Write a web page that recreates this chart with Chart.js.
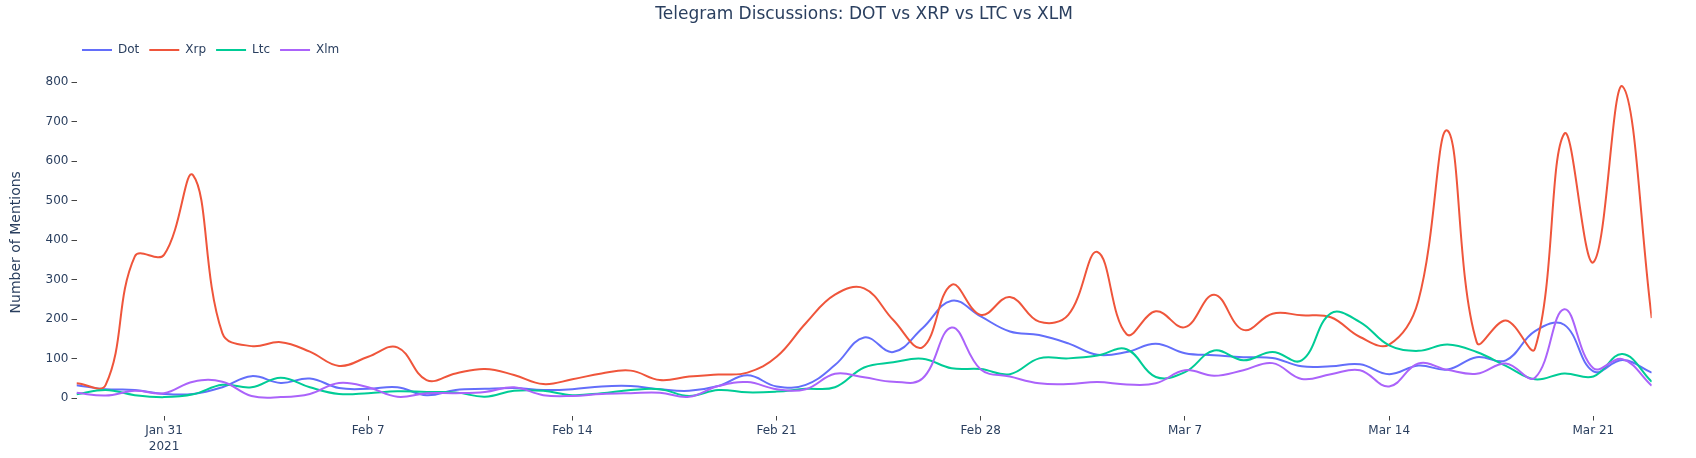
<!DOCTYPE html>
<html>
<head>
<meta charset="utf-8">
<title>Telegram Discussions: DOT vs XRP vs LTC vs XLM</title>
<script src="https://cdn.jsdelivr.net/npm/chart.js@4.4.1/dist/chart.umd.min.js"></script>
<style>
  html, body { margin: 0; padding: 0; background: #fff; }
  #chart { display: block; }
</style>
</head>
<body>
<canvas id="chart" width="1696" height="458"></canvas>
<script>
/* ── Data: daily mentions, Jan 28 – Mar 23 2021 ─────────── */
const days = [
  'Jan 28', 'Jan 29', 'Jan 30', 'Jan 31',
  'Feb 1', 'Feb 2', 'Feb 3', 'Feb 4', 'Feb 5', 'Feb 6', 'Feb 7',
  'Feb 8', 'Feb 9', 'Feb 10', 'Feb 11', 'Feb 12', 'Feb 13', 'Feb 14',
  'Feb 15', 'Feb 16', 'Feb 17', 'Feb 18', 'Feb 19', 'Feb 20', 'Feb 21',
  'Feb 22', 'Feb 23', 'Feb 24', 'Feb 25', 'Feb 26', 'Feb 27', 'Feb 28',
  'Mar 1', 'Mar 2', 'Mar 3', 'Mar 4', 'Mar 5', 'Mar 6', 'Mar 7',
  'Mar 8', 'Mar 9', 'Mar 10', 'Mar 11', 'Mar 12', 'Mar 13', 'Mar 14',
  'Mar 15', 'Mar 16', 'Mar 17', 'Mar 18', 'Mar 19', 'Mar 20', 'Mar 21',
  'Mar 22', 'Mar 23'
];

const dot = [33, 23, 21, 11, 11, 28, 56, 39, 50, 26, 24, 28, 8, 21, 24, 26, 21, 23, 30, 31,
             23, 19, 31, 58, 30, 34, 84, 154, 117, 177, 247, 207, 169, 160, 139, 110, 117, 138, 114, 109,
             104, 102, 81, 81, 86, 61, 83, 73, 104, 96, 170, 186, 68, 97, 65];
const xrp = [38, 34, 359, 363, 564, 165, 132, 142, 118, 82, 105, 129, 46, 63, 74, 59, 36, 48, 63, 70,
             46, 55, 60, 65, 105, 190, 262, 278, 198, 129, 287, 211, 256, 194, 211, 370, 162, 220, 180, 262,
             173, 214, 210, 205, 155, 136, 247, 677, 142, 197, 126, 669, 344, 789, 203];
const ltc = [10, 21, 8, 3, 10, 34, 28, 52, 28, 11, 13, 18, 16, 15, 4, 19, 19, 8, 13, 21,
             23, 6, 21, 15, 17, 24, 28, 78, 91, 100, 76, 74, 61, 101, 101, 108, 124, 54, 66, 121,
             96, 117, 96, 215, 193, 134, 120, 136, 117, 82, 48, 63, 55, 112, 42];
const xlm = [14, 7, 19, 13, 42, 42, 6, 3, 11, 39, 28, 4, 13, 13, 16, 28, 8, 6, 11, 13,
             14, 4, 31, 41, 23, 23, 62, 53, 42, 50, 179, 73, 55, 38, 36, 41, 35, 38, 71, 57,
             71, 89, 49, 61, 71, 30, 88, 72, 62, 88, 52, 225, 76, 99, 32];

const seriesNames = ['Dot', 'Xrp', 'Ltc', 'Xlm'];

/* ── Axis ticks ─────────────────────────────────────────── */
const tickDays   = ['Jan 31', 'Feb 7', 'Feb 14', 'Feb 21', 'Feb 28', 'Mar 7', 'Mar 14', 'Mar 21'];
const tickLabels = [['Jan 31', '2021'], 'Feb 7', 'Feb 14', 'Feb 21', 'Feb 28', 'Mar 7', 'Mar 14', 'Mar 21'];
const yTicks     = [0, 100, 200, 300, 400, 500, 600, 700, 800];

/* ── Style tokens ───────────────────────────────────────── */
const FONT   = '"DejaVu Sans", Verdana, sans-serif';
const INK    = '#2a3f5f';
const TICK   = '#444';
const COLORS = ['#636efa', '#EF553B', '#00cc96', '#ab63fa'];

Chart.defaults.font.family = FONT;
Chart.defaults.color = INK;

// turn a series into {x: day index, y: value}
const toPoints = arr => arr.map((v, i) => ({ x: i, y: v }));

// title sits over the plot area, legend starts at the left like plotly's
const placeBlocks = {
  id: 'placeBlocks',
  afterLayout(chart) {
    const area = chart.chartArea;
    if (chart.titleBlock) {
      chart.titleBlock.left  = area.left;
      chart.titleBlock.right = area.right;
    }
    if (chart.legend) {
      chart.legend.left = 72;
      chart.legend.top  = 34;
    }
  },
};

const allSeries = [dot, xrp, ltc, xlm];

new Chart(document.getElementById('chart'), {
  type: 'line',
  data: {
    datasets: allSeries.map((s, i) => ({
      label:           seriesNames[i],
      data:            toPoints(s),
      borderColor:     COLORS[i],
      backgroundColor: COLORS[i],
      borderWidth:     2,
      pointRadius:     0,
      tension:         0.4,
      fill:            false,
      order:           allSeries.length - i,   // later traces on top
    })),
  },
  options: {
    responsive: false,
    animation:  false,
    layout: { padding: { top: 2.3, right: 44.3, bottom: 0, left: 0 } },
    plugins: {
      title: {
        display: true,
        text:    'Telegram Discussions: DOT vs XRP vs LTC vs XLM',
        color:   INK,
        font:    { family: FONT, size: 17, weight: 'normal', lineHeight: 1.2 },
        padding: { top: 2, bottom: 12.3 },
      },
      legend: {
        display: true,
        align:   'start',
        labels: {
          usePointStyle:  true,
          pointStyle:     'line',
          pointStyleWidth: 30,
          padding:        10,
          color:          INK,
          font:           { family: FONT, size: 12 },
          sort:           (a, b) => a.datasetIndex - b.datasetIndex,
        },
      },
      tooltip: { enabled: false },
    },
    scales: {
      x: {
        type: 'linear',
        min:  0,
        max:  days.length - 1,
        border: { display: false },
        grid:   { drawOnChartArea: false, drawTicks: true, tickLength: 5, color: TICK },
        afterBuildTicks: scale => {
          scale.ticks = tickDays.map(d => ({ value: days.indexOf(d) }));
        },
        afterFit: scale => { scale.height = 42.5; },
        ticks: {
          autoSkip:    false,
          maxRotation: 0,
          padding:     2,
          color:       INK,
          font:        { family: FONT, size: 12, lineHeight: 1.35 },
          callback:    (v) => tickLabels[tickDays.indexOf(days[v])],
        },
      },
      y: {
        min: -43.5,
        max: 833,
        border: { display: false },
        grid:   { drawOnChartArea: false, drawTicks: true, tickLength: 5, color: TICK },
        afterBuildTicks: scale => {
          scale.ticks = yTicks.map(v => ({ value: v }));
        },
        afterFit: scale => { scale.width = 76.5; },
        ticks: {
          padding: 3,
          color:   INK,
          font:    { family: FONT, size: 12 },
        },
        title: {
          display: true,
          text:    'Number of Mentions',
          color:   INK,
          font:    { family: FONT, size: 14 },
          padding: { top: 8, bottom: 0 },
        },
      },
    },
  },
  plugins: [placeBlocks],
});
</script>
</body>
</html>
